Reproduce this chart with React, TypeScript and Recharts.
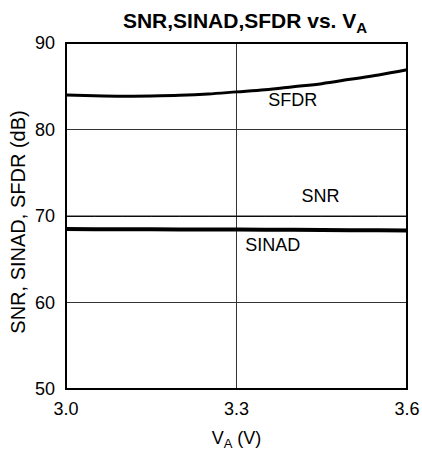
import React from 'react';
import { LineChart, Line, XAxis, YAxis, CartesianGrid, ReferenceArea, ReferenceDot, Label } from 'recharts';

const voltages = [3.0, 3.05, 3.1, 3.15, 3.2, 3.25, 3.3, 3.35, 3.4, 3.45, 3.5, 3.55, 3.6];
const sfdr = [84.0, 83.9, 83.85, 83.88, 83.95, 84.1, 84.35, 84.6, 84.95, 85.3, 85.8, 86.3, 86.9];
const snr = [69.95, 69.95, 69.95, 69.95, 69.95, 69.95, 69.95, 69.95, 69.95, 69.95, 69.95, 69.95, 69.95];
const sinad = [68.5, 68.48, 68.47, 68.46, 68.45, 68.44, 68.43, 68.42, 68.4, 68.38, 68.36, 68.34, 68.32];

const xTicks = [3.0, 3.3, 3.6];
const yTicks = [50, 60, 70, 80, 90];

const seriesLabels = [
  { name: 'SFDR', x: 3.399, y: 83.45 },
  { name: 'SNR', x: 3.448, y: 72.35 },
  { name: 'SINAD', x: 3.364, y: 66.7 },
];

const data = voltages.map((v, i) => ({ v, sfdr: sfdr[i], snr: snr[i], sinad: sinad[i] }));

const FONT = 'Liberation Sans, Arial, sans-serif';

export default function App() {
  return (
    <div style={{ position: 'absolute', left: 0, top: 0, width: 422, height: 450, background: '#fff', fontFamily: FONT }}>
      <div style={{ position: 'absolute', left: 0, top: 10, width: 490, lineHeight: '22px', textAlign: 'center', fontWeight: 'bold', fontSize: 21, color: '#000', whiteSpace: 'nowrap' }}>
        SNR,SINAD,SFDR vs. V<span style={{ fontSize: 15, position: 'relative', top: 5 }}>A</span>
      </div>
      <LineChart width={422} height={450} data={data} margin={{ top: 43, right: 15, bottom: 0, left: 0 }} style={{ fontFamily: FONT }}>
        <CartesianGrid stroke="#333" strokeWidth={1} horizontal vertical />
        <XAxis
          dataKey="v"
          type="number"
          domain={[3.0, 3.6]}
          ticks={xTicks}
          tickFormatter={(t: number) => t.toFixed(1)}
          height={61}
          tickLine={false}
          tickSize={0}
          tickMargin={13}
          axisLine={{ stroke: '#000', strokeWidth: 2 }}
          tick={{ fill: '#000', fontSize: 18 }}
        >
          <Label
            content={(props: any) => {
              const vb = props.viewBox || {};
              const cx = vb.x + vb.width / 2;
              return (
                <text x={cx} y={444} textAnchor="middle" fontSize={18} fill="#000" fontFamily={FONT}>
                  V<tspan fontSize={13} dy={4}>A</tspan><tspan dy={-4}> (V)</tspan>
                </text>
              );
            }}
          />
        </XAxis>
        <YAxis
          type="number"
          domain={[50, 90]}
          ticks={yTicks}
          width={66}
          tickLine={false}
          tickSize={0}
          tickMargin={11}
          axisLine={{ stroke: '#000', strokeWidth: 2 }}
          tick={{ fill: '#000', fontSize: 18 }}
        >
          <Label
            content={() => (
              <text x={25} y={222} transform="rotate(-90 25 222)" textAnchor="middle" fontSize={20} fill="#000" fontFamily={FONT}>
                SNR, SINAD, SFDR (dB)
              </text>
            )}
          />
        </YAxis>
        <ReferenceArea x1={3.0} x2={3.6} y1={50} y2={90} fill="none" stroke="#000" strokeWidth={2} ifOverflow="visible" />
        <Line type="monotone" dataKey="snr" stroke="#000" strokeWidth={1} dot={false} isAnimationActive={false} />
        <Line type="monotone" dataKey="sinad" stroke="#000" strokeWidth={4} dot={false} isAnimationActive={false} />
        <Line type="monotone" dataKey="sfdr" stroke="#000" strokeWidth={3} dot={false} isAnimationActive={false} />
        {seriesLabels.map((s) => (
          <ReferenceDot
            key={s.name}
            x={s.x}
            y={s.y}
            r={0}
            fill="none"
            stroke="none"
            ifOverflow="visible"
            label={{ value: s.name, position: 'center', fontSize: 18, fill: '#000', fontFamily: FONT }}
          />
        ))}
      </LineChart>
    </div>
  );
}
